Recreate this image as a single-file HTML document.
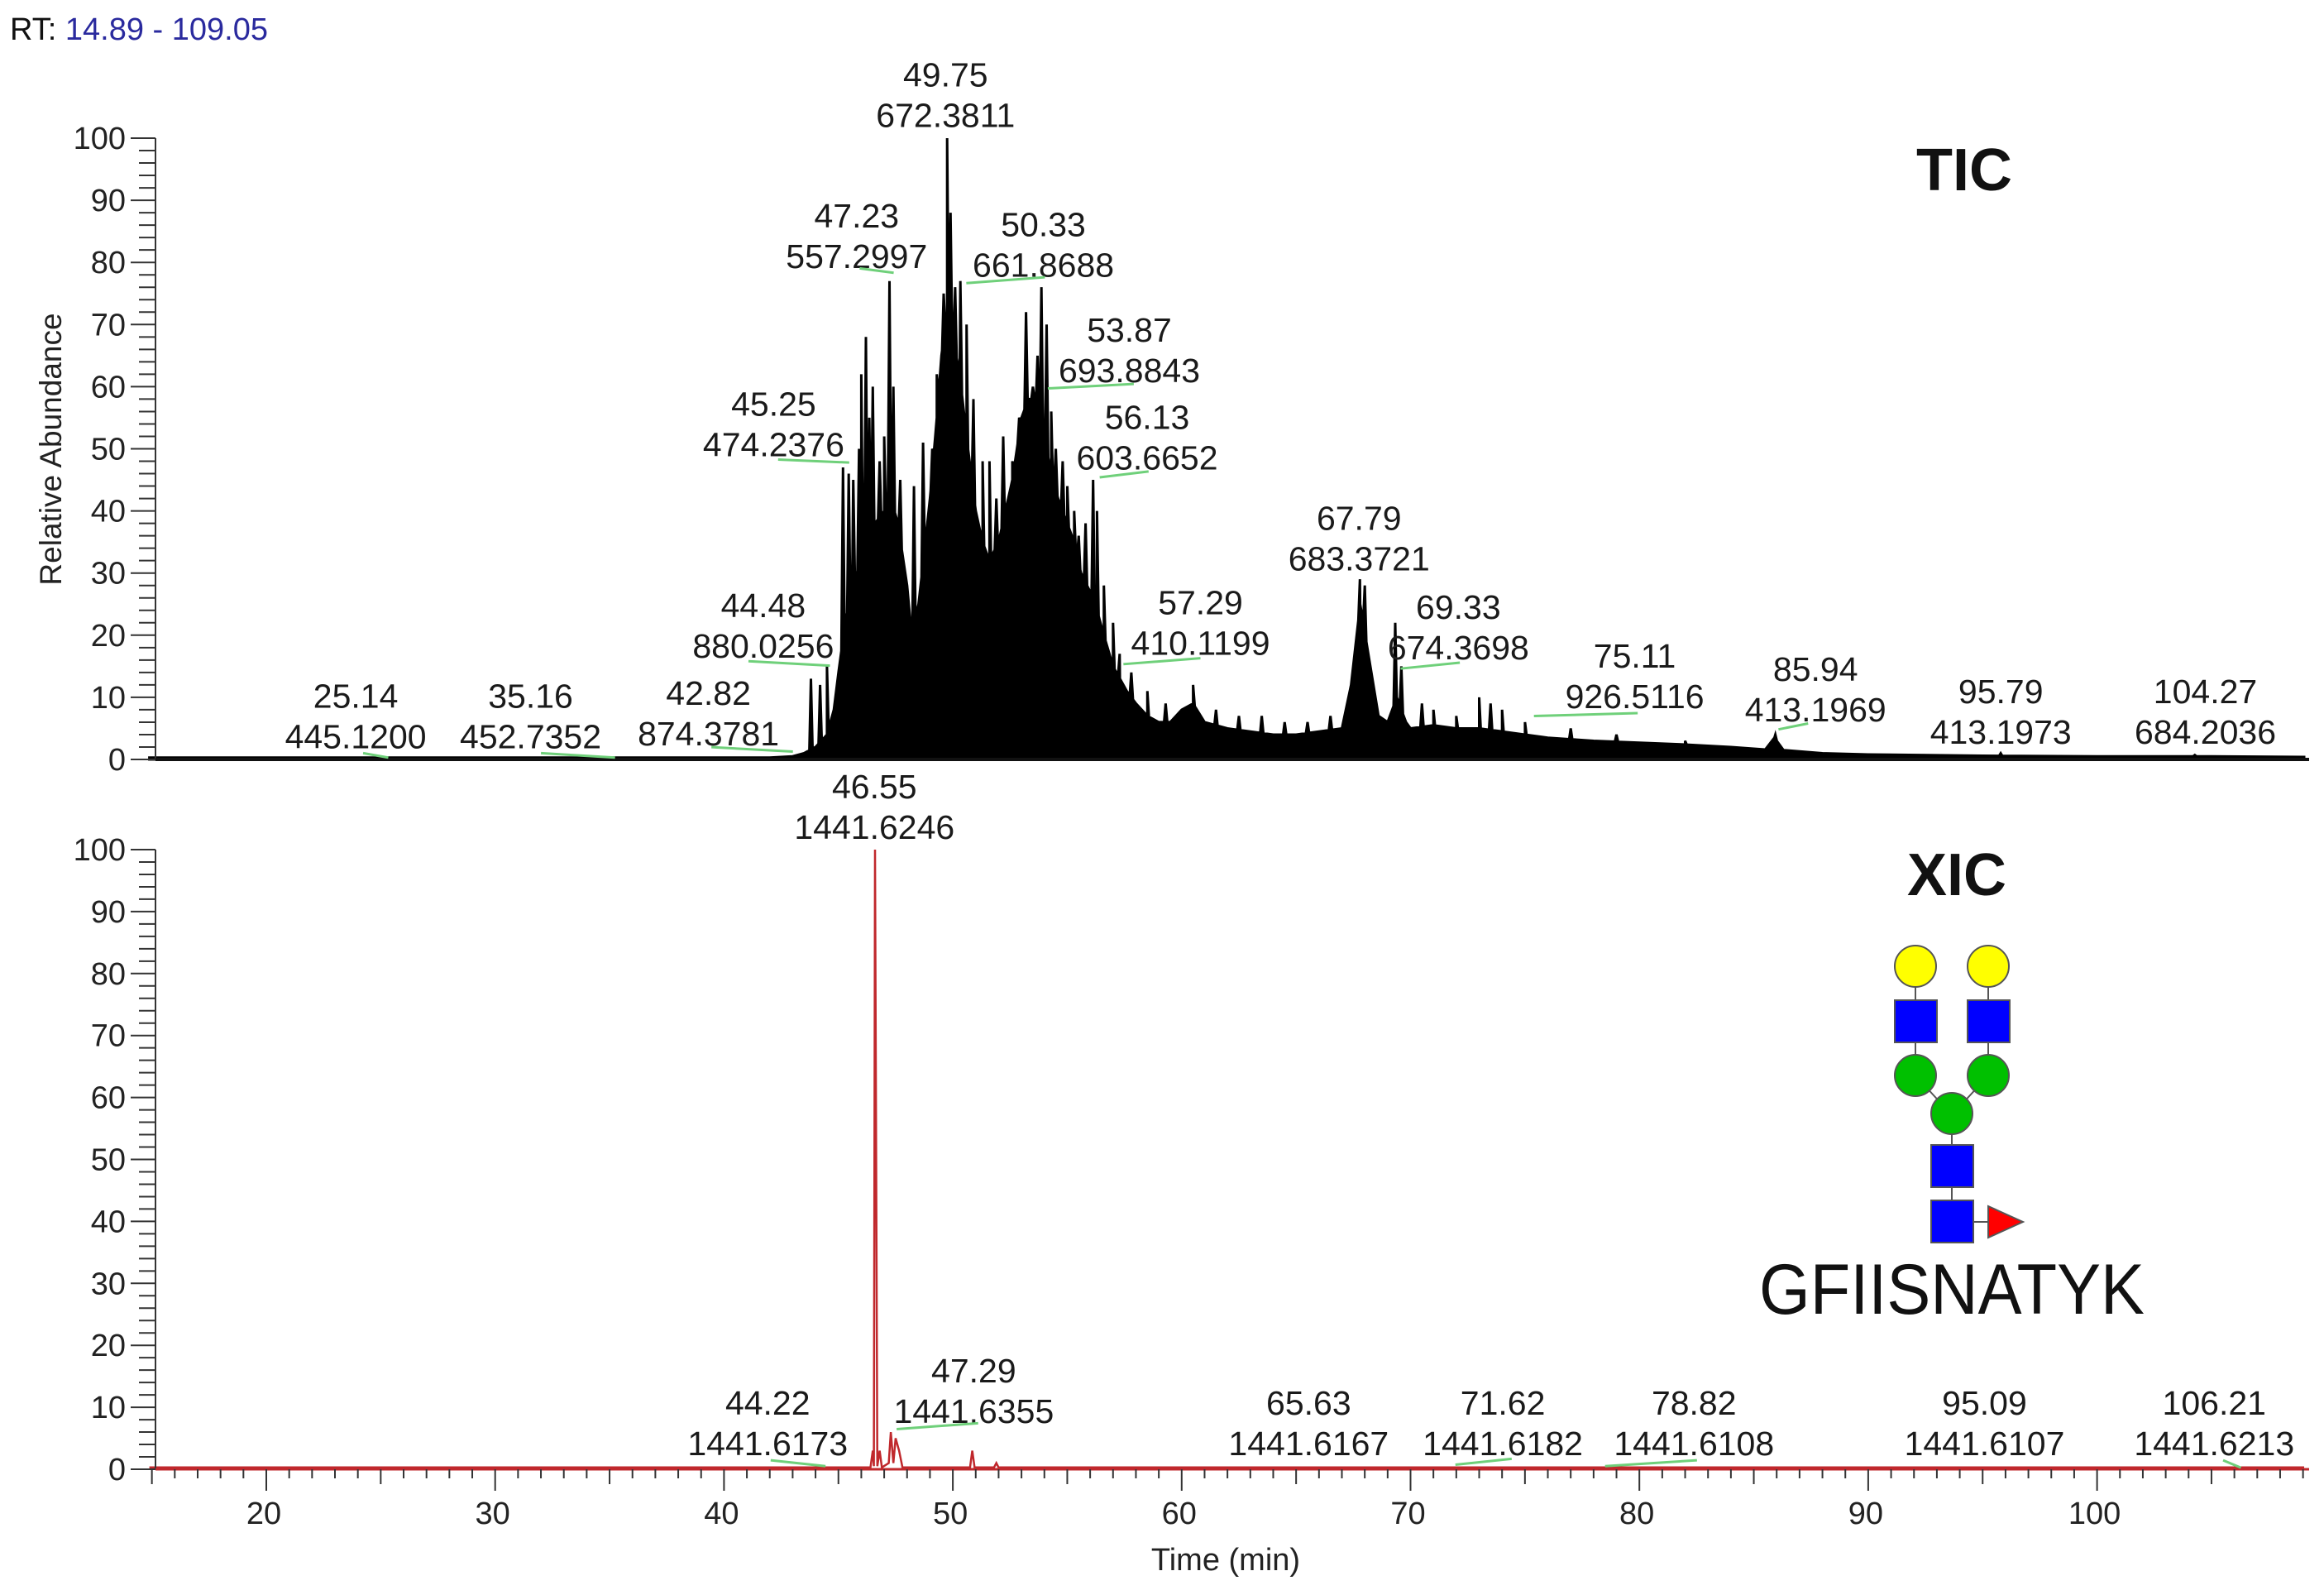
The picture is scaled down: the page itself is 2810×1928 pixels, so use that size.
<!DOCTYPE html>
<html><head><meta charset="utf-8"><style>
html,body{margin:0;padding:0;background:#fff}
svg{display:block}
text{font-family:"Liberation Sans",Arial,sans-serif}
</style></head><body>
<svg id="chart" width="2810" height="1928" viewBox="0 0 2810 1928" xmlns="http://www.w3.org/2000/svg">
<text x="12" y="48" font-size="38" fill="#111">RT: <tspan fill="#2a2a9e">14.89 - 109.05</tspan></text>
<text x="2375" y="230" font-size="72" font-weight="bold" text-anchor="middle" fill="#111">TIC</text>
<text x="2366" y="1082" font-size="72" font-weight="bold" text-anchor="middle" fill="#111">XIC</text>
<text transform="translate(74,543) rotate(-90)" font-size="37" text-anchor="middle" fill="#222">Relative Abundance</text>
<text x="1482" y="1898" font-size="38" text-anchor="middle" fill="#222">Time (min)</text>
<g id="glycan" stroke="#555" stroke-width="2">
  <line x1="2316" y1="1168" x2="2316" y2="1300"/><line x1="2404" y1="1168" x2="2404" y2="1300"/>
  <line x1="2316" y1="1300" x2="2360" y2="1348"/><line x1="2404" y1="1300" x2="2360" y2="1348"/>
  <line x1="2360" y1="1348" x2="2360" y2="1500"/><line x1="2360" y1="1477" x2="2420" y2="1477"/>
  <circle cx="2316" cy="1168" r="25" fill="#ffff00"/>
  <circle cx="2404" cy="1168" r="25" fill="#ffff00"/>
  <rect x="2291" y="1209" width="51" height="51" fill="#0000ff"/>
  <rect x="2379" y="1209" width="51" height="51" fill="#0000ff"/>
  <circle cx="2316" cy="1300" r="25" fill="#00c000"/>
  <circle cx="2404" cy="1300" r="25" fill="#00c000"/>
  <circle cx="2360" cy="1346" r="25" fill="#00c000"/>
  <rect x="2335" y="1384" width="51" height="51" fill="#0000ff"/>
  <rect x="2335" y="1451" width="51" height="51" fill="#0000ff"/>
  <polygon points="2404,1458 2446,1477 2404,1496" fill="#ff0000"/>
</g>
<text x="2360" y="1588" font-size="86" text-anchor="middle" textLength="466" lengthAdjust="spacingAndGlyphs" fill="#111" font-family="'DejaVu Sans','Liberation Sans',sans-serif">GFIISNATYK</text>
</svg>
<script>
// ---- data ----
const ticEnvT = [14.89,42,43,43.5,44,44.5,44.8,45,45.3,45.6,46,46.3,46.6,47,47.3,47.6,48,48.2,48.5,48.8,49,49.3,49.5,49.75,50,50.3,50.6,51,51.3,51.6,52,52.3,52.6,53,53.3,53.6,54,54.3,54.6,55,55.3,55.6,56,56.3,56.6,57,57.3,57.6,58,58.5,59,59.5,60,60.5,61,62,63,64,65,66,67,67.4,67.8,68.2,68.6,69,69.4,69.8,70,71,72,73,74,75,76,78,80,82,84,85.5,85.9,86.3,88,90,95,100,105,109.05];
const ticEnvV = [0.3,0.3,0.5,1,2,4,8,14,22,28,32,36,38,40,42,38,28,20,25,35,42,55,65,72,68,62,52,40,35,32,35,40,45,55,58,58,52,46,42,38,35,30,27,24,20,15,13,11,9,7,6,6,8,9,6,5,4.5,4,4,4.5,5,12,25,16,7,6,10,6,5,5.5,5,5,4.5,4,3.5,3,2.7,2.4,2,1.6,3.5,1.5,1,0.8,0.6,0.5,0.5,0.4];
const ticSpikeT = [43.8,44.2,44.5,45.2,45.45,45.65,45.9,46.0,46.2,46.35,46.5,46.8,47.0,47.23,47.4,47.7,48.3,48.7,49.1,49.3,49.6,49.75,49.9,50.1,50.33,50.6,50.9,51.3,51.6,51.9,52.2,52.6,52.9,53.2,53.5,53.7,53.87,54.1,54.3,54.5,54.8,55.0,55.3,55.5,55.8,56.13,56.3,56.6,57.0,57.29,57.8,58.5,59.3,60.5,61.5,62.5,63.5,64.5,65.5,66.5,67.79,68.0,69.33,69.6,70.5,71,72,73,73.5,74,75,77,79,82,85.94,95.79,104.27];
const ticSpikeV = [13,12,15,47,46,45,50,62,68,55,60,48,52,77,60,45,44,51,50,62,75,100,88,76,77,70,58,48,48,42,52,48,55,72,60,65,76,70,56,50,48,44,40,36,38,45,40,28,22,17,14,11,9,12,8,7,7,6,6,7,29,28,22,15,9,8,7,10,9,8,6,5,4,3,4,1,0.7];
const xicT = [14.89,46.4,46.5,46.55,46.6,46.7,46.8,46.9,47.2,47.29,47.4,47.5,47.65,47.8,50.75,50.85,50.95,51.8,51.9,52,109.05];
const xicV = [0.3,0.3,3,0.5,100,0.5,3,0.3,1,6,1,5,3,0.3,0.3,3,0.3,0.3,1,0.3,0.3];
const yTicks = [0,10,20,30,40,50,60,70,80,90,100];
const xTicks = [20,30,40,50,60,70,80,90,100];
const ticLabT = ["25.14","35.16","42.82","44.48","45.25","47.23","49.75","50.33","53.87","56.13","57.29","67.79","69.33","75.11","85.94","95.79","104.27"];
const ticLabM = ["445.1200","452.7352","874.3781","880.0256","474.2376","557.2997","672.3811","661.8688","693.8843","603.6652","410.1199","683.3721","674.3698","926.5116","413.1969","413.1973","684.2036"];
const xicLabT = ["46.55","44.22","47.29","65.63","71.62","78.82","95.09","106.21"];
const xicLabM = ["1441.6246","1441.6173","1441.6355","1441.6167","1441.6182","1441.6108","1441.6107","1441.6213"];
// ---- layout ----
const S=1.792;
const ticLabPos=[[240,469],[358,469],[478,467],[515,408],[522,272],[578,145],[638,50],[704,151],[762,222],[774,281],[810,406],[917,349],[984,409],[1103,442],[1225,451],[1350,466],[1488,466]];
const ticLead=[[245,508,262,511],[365,508,415,511],[480,504,535,507],[505,446,560,449],[525,310,573,312],[580,181,603,184],null,[652,191,705,187],[707,262,765,259],[742,322,775,318],[758,448,810,444],null,[945,451,985,447],[1035,483,1105,481],[1200,492,1220,488],null,null];
const xicLabPos=[[590,530],[518,946],[657,924],[883,946],[1014,946],[1143,946],[1339,946],[1494,946]];
const xicLead=[null,[520,985,557,989],[605,964,660,960],null,[982,988,1020,984],[1083,989,1145,985],null,[1500,985,1512,990]];
const NS='http://www.w3.org/2000/svg';
const svg=document.getElementById('chart');
const X0=188, X1=2792;
function xs(t){return 322+(t-20)*27.67;}
function yTop(v){return 918-v*7.51;}
function yBot(v){return 1776-v*7.49;}
function mk(tag,attrs,parent){const e=document.createElementNS(NS,tag);for(const k in attrs)e.setAttribute(k,attrs[k]);(parent||svg).appendChild(e);return e;}
function envAt(t){for(let i=1;i<ticEnvT.length;i++){if(t<=ticEnvT[i]){const a=ticEnvT[i-1],b=ticEnvT[i];const f=(t-a)/(b-a);return ticEnvV[i-1]+f*(ticEnvV[i]-ticEnvV[i-1]);}}return ticEnvV[ticEnvV.length-1];}
// TIC area
let pts=[];
ticEnvT.forEach((t,i)=>pts.push([t,ticEnvV[i]]));
ticSpikeT.forEach((t,i)=>{pts.push([t-0.07,envAt(t-0.07)]);pts.push([t,Math.max(ticSpikeV[i],envAt(t))]);pts.push([t+0.07,envAt(t+0.07)]);});
pts.sort((a,b)=>a[0]-b[0]);
let d='M'+xs(14.89)+','+yTop(0);
pts.forEach(p=>{d+=' L'+xs(p[0]).toFixed(1)+','+yTop(p[1]).toFixed(1);});
d+=' L'+xs(109.05)+','+yTop(0)+' Z';
const area=mk('path',{d:d,fill:'#000',stroke:'#000','stroke-width':'3','stroke-linejoin':'miter'});


// XIC line
let d2='';
xicT.forEach((t,i)=>{d2+=(i?' L':'M')+xs(t).toFixed(1)+','+yBot(xicV[i]).toFixed(1);});
const xl=mk('path',{d:d2,fill:'none',stroke:'#c0282c','stroke-width':'2.5'});


// axes
function yAxis(yf,name){
  const g=mk('g',{stroke:'#333','stroke-width':'2'});
  
  
  mk('line',{x1:X0,y1:yf(100),x2:X0,y2:yf(0)},g);
  for(let v=0;v<=100;v+=2){const major=v%10===0;mk('line',{x1:major?X0-30:X0-20,y1:yf(v),x2:X0,y2:yf(v)},g);}
  yTicks.forEach(v=>{const t=mk('text',{x:X0-36,y:yf(v)+13,'font-size':'38','text-anchor':'end',fill:'#222',stroke:'none'});t.textContent=v;
    
    });
}
yAxis(yTop,'tic-y-axis');yAxis(yBot,'xic-y-axis');
const topBase=mk('line',{x1:X0,y1:yTop(0),x2:X1,y2:yTop(0),stroke:'#111','stroke-width':'4'});


const gx=mk('g',{stroke:'#333','stroke-width':'2'});


mk('line',{x1:X0,y1:yBot(0),x2:X1,y2:yBot(0),stroke:'#c0282c','stroke-width':'3'},gx);
for(let t=15;t<=109;t++){const L=t%10===0?26:(t%5===0?18:11);mk('line',{x1:xs(t),y1:yBot(0),x2:xs(t),y2:yBot(0)+L},gx);}
xTicks.forEach(v=>{const t=mk('text',{x:xs(v)-3,y:1842,'font-size':'38','text-anchor':'middle',fill:'#222',stroke:'none'});t.textContent=v;
  
  });
// labels
function labels(T,M,P,Lead,name){
  T.forEach((tv,i)=>{
    const cx=P[i][0]*S, y1=P[i][1]*S+15;
    const g=mk('g',{});
    
    
    const a=mk('text',{x:cx,y:y1,'font-size':'41','text-anchor':'middle',fill:'#1a1a1a'},g);a.textContent=tv;
    const b=mk('text',{x:cx,y:y1+49,'font-size':'41','text-anchor':'middle',fill:'#1a1a1a'},g);b.textContent=M[i];
    if(Lead[i]){const l=Lead[i];mk('line',{x1:l[0]*S,y1:l[1]*S,x2:l[2]*S,y2:l[3]*S,stroke:'#6fd07a','stroke-width':'3'},g);}
  });
}
labels(ticLabT,ticLabM,ticLabPos,ticLead,'tic-peak-label');
labels(xicLabT,xicLabM,xicLabPos,xicLead,'xic-peak-label');
</script>
</body></html>
